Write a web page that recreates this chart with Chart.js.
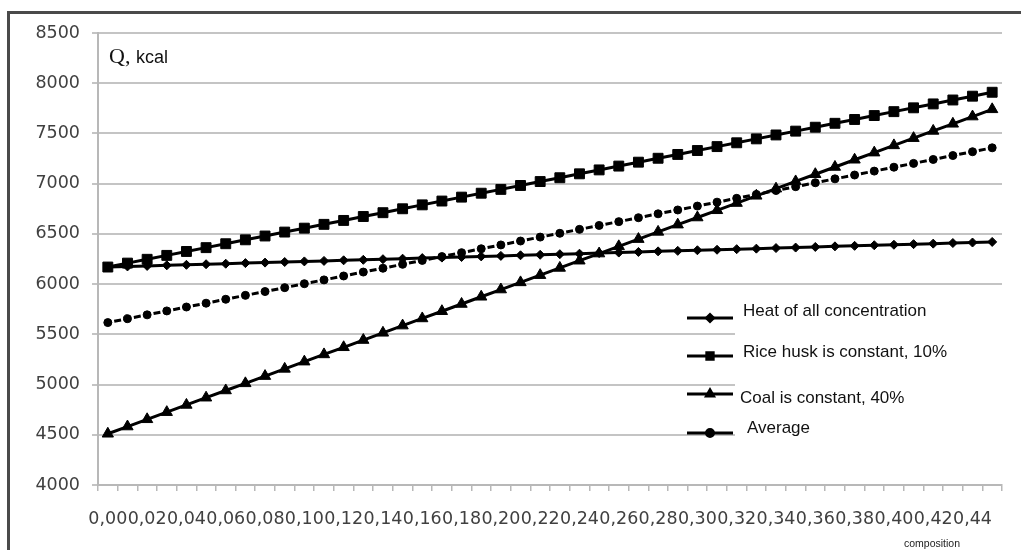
<!DOCTYPE html>
<html>
<head>
<meta charset="utf-8">
<script src="https://cdn.jsdelivr.net/npm/chart.js@4/dist/chart.umd.min.js"></script>
<style>
  html, body { margin: 0; padding: 0; background: #fff; }
  #wrap { position: relative; width: 1021px; height: 550px; overflow: hidden; }
  #frame { position: absolute; left: 7px; top: 11px; width: 1100px; height: 600px;
           border-left: 3px solid #4a4a4a; border-top: 3px solid #4a4a4a; pointer-events: none; }
</style>
</head>
<body>
<div id="wrap">
  <canvas id="c" width="1021" height="550"></canvas>
  <div id="frame"></div>
</div>
<script>
// ---- data ----
const categories = ['0,00','0,01','0,02','0,03','0,04','0,05','0,06','0,07','0,08','0,09',
  '0,10','0,11','0,12','0,13','0,14','0,15','0,16','0,17','0,18','0,19',
  '0,20','0,21','0,22','0,23','0,24','0,25','0,26','0,27','0,28','0,29',
  '0,30','0,31','0,32','0,33','0,34','0,35','0,36','0,37','0,38','0,39',
  '0,40','0,41','0,42','0,43','0,44','0,45'];

const heatAll = [6170,6176,6181,6187,6192,6198,6203,6209,6214,6220,
  6226,6231,6237,6242,6248,6253,6259,6264,6270,6276,
  6281,6287,6292,6298,6303,6309,6314,6320,6326,6331,
  6337,6342,6348,6353,6359,6364,6370,6376,6381,6387,
  6392,6398,6403,6409,6414,6420];

const riceHusk = [6170,6209,6247,6286,6325,6363,6402,6441,6479,6518,
  6557,6595,6634,6673,6711,6750,6789,6827,6866,6905,
  6943,6982,7021,7059,7098,7137,7175,7214,7253,7291,
  7330,7369,7407,7446,7485,7523,7562,7601,7639,7678,
  7717,7755,7794,7833,7871,7910];

const coal = [4510,4582,4654,4725,4797,4869,4941,5012,5084,5156,
  5228,5300,5371,5443,5515,5587,5658,5730,5802,5874,
  5946,6017,6089,6161,6233,6304,6376,6448,6520,6592,
  6663,6735,6807,6879,6950,7022,7094,7166,7238,7309,
  7381,7453,7525,7596,7668,7740];

const average = [5617,5656,5694,5733,5772,5810,5849,5888,5926,5965,
  6004,6042,6081,6120,6158,6197,6236,6274,6313,6352,
  6390,6429,6468,6506,6545,6584,6622,6661,6700,6738,
  6777,6816,6854,6893,6932,6970,7009,7048,7086,7125,
  7164,7202,7241,7280,7318,7357];

const seriesNames = ['Heat of all concentration','Rice husk is constant, 10%','Coal is constant, 40%','Average'];
const yTicks = [4000,4500,5000,5500,6000,6500,7000,7500,8000,8500];

// ---- chart ----
const styles = [
  {pointStyle:'rectRot', r:4.5, lr:3.5, dash:[], dashOff:0},
  {pointStyle:'rect', r:7, lr:4.5, dash:[], dashOff:0},
  {pointStyle:'triangle', r:6.5, lr:4, dash:[], dashOff:0},
  {pointStyle:'circle', r:4, lr:3.5, dash:[7,3.015], dashOff:3.5}
];
const seriesData = [heatAll, riceHusk, coal, average];

const decor = {
  id: 'decor',
  beforeDraw(chart) {
    const ctx = chart.ctx;
    ctx.save();
    ctx.fillStyle = '#fff';
    ctx.fillRect(0, 0, chart.width, chart.height);
    ctx.restore();
  },
  afterDraw(chart) {
    const ctx = chart.ctx;
    ctx.save();
    // axis title
    ctx.fillStyle = '#111';
    ctx.textBaseline = 'alphabetic';
    ctx.textAlign = 'left';
    ctx.font = '22px "Liberation Serif"';
    ctx.fillText('Q,', 109, 63);
    ctx.font = '18px "Liberation Sans"';
    ctx.fillText('kcal', 136, 63);
    // x-axis note
    ctx.font = '10.5px "Liberation Sans"';
    ctx.fillStyle = '#222';
    ctx.fillText('composition', 904, 547);

    // legend
    ctx.fillStyle = '#fff';
    ctx.fillRect(735, 294, 270, 150);
    const lineY = [318, 356, 394, 433];
    const textBase = [316, 357, 403, 433];
    const textX = [743, 743, 740, 747];
    ctx.font = '17px "Liberation Sans"';
    for (let i = 0; i < 4; i++) {
      const st = styles[i];
      ctx.strokeStyle = '#000';
      ctx.lineWidth = 3;
      ctx.beginPath();
      ctx.moveTo(687, lineY[i]);
      ctx.lineTo(733, lineY[i]);
      ctx.stroke();
      ctx.fillStyle = '#000';
      Chart.helpers.drawPoint(ctx, {pointStyle: st.pointStyle, radius: st.lr, rotation: 0, borderWidth: 1}, 710, lineY[i]);
      ctx.fill();
      ctx.fillStyle = '#111';
      ctx.textBaseline = 'alphabetic';
      ctx.fillText(seriesNames[i], textX[i], textBase[i]);
    }
    ctx.restore();
  }
};

new Chart(document.getElementById('c'), {
  type: 'line',
  data: {
    labels: categories,
    datasets: seriesData.map((d, i) => ({
      label: seriesNames[i],
      data: d,
      borderColor: '#000',
      backgroundColor: '#000',
      borderWidth: 3,
      borderDash: styles[i].dash,
      borderDashOffset: styles[i].dashOff,
      pointStyle: styles[i].pointStyle,
      pointRadius: styles[i].r,
      pointBackgroundColor: '#000',
      pointBorderColor: '#000',
      pointBorderWidth: 1,
      tension: 0,
      fill: false
    }))
  },
  options: {
    responsive: false,
    devicePixelRatio: 1,
    animation: false,
    layout: { padding: { left: 0, right: 19, top: 33, bottom: 0 } },
    plugins: { legend: { display: false }, tooltip: { enabled: false }, title: { display: false } },
    scales: {
      x: {
        type: 'category',
        offset: true,
        afterFit(scale) { scale.height = 65; },
        grid: { display: true, drawOnChartArea: false, drawTicks: true, tickLength: 6, offset: true, color: '#b8b8b8', lineWidth: 1.5 },
        border: { display: true, color: '#b8b8b8', width: 2 },
        ticks: {
          autoSkip: false, maxRotation: 0, minRotation: 0, padding: 18,
          color: '#404040',
          font: { family: '"DejaVu Sans"', size: 17.5 },
          callback(value, index) { return index % 2 === 0 ? categories[index] : ''; }
        }
      },
      y: {
        min: yTicks[0], max: yTicks[yTicks.length - 1],
        afterFit(scale) { scale.width = 98; },
        afterBuildTicks(scale) { scale.ticks = yTicks.map(v => ({ value: v })); },
        grid: { color: '#c4c4c4', lineWidth: 2, tickLength: 6, drawTicks: true },
        border: { display: true, color: '#b8b8b8', width: 2 },
        ticks: {
          padding: 12, color: '#404040',
          font: { family: '"DejaVu Sans"', size: 17.5 },
          callback(value) { return String(value); }
        }
      }
    }
  },
  plugins: [decor]
});
</script>
</body>
</html>
